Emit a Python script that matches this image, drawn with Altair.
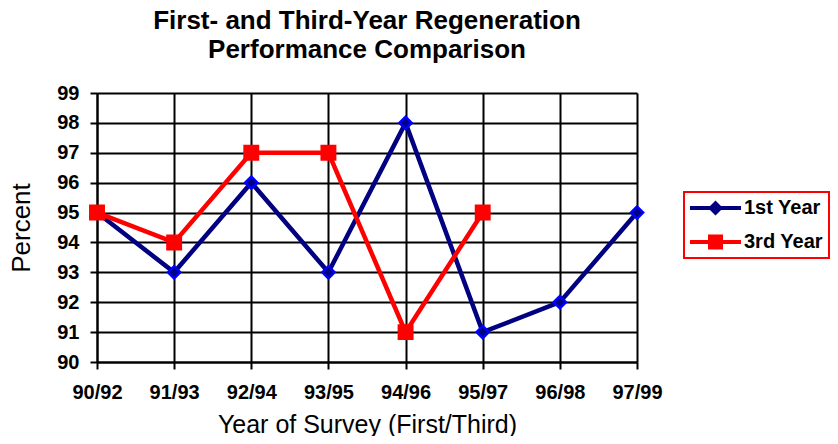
import altair as alt
import pandas as pd

categories = ["90/92", "91/93", "92/94", "93/95", "94/96", "95/97", "96/98", "97/99"]
first_year = [95, 93, 96, 93, 98, 91, 92, 95]
third_year = [95, 94, 97, 97, 91, 95]
series_names = ["1st Year", "3rd Year"]

rows = []
for c, v in zip(categories, first_year):
    rows.append({"survey": c, "percent": v, "series": series_names[0]})
for c, v in zip(categories, third_year):
    rows.append({"survey": c, "percent": v, "series": series_names[1]})
df = pd.DataFrame(rows)
df["key"] = df["series"]

FONT = "Liberation Sans"

x_enc = alt.X("survey:O", sort=categories,
              scale=alt.Scale(type="point", domain=categories, padding=0),
              axis=alt.Axis(title="Year of Survey (First/Third)", labelAngle=0,
                            labelFontWeight="bold", labelFontSize=20, labelPadding=13,
                            titleFontSize=25, titleFontWeight="normal", titlePadding=10,
                            grid=True, gridColor="black", gridWidth=2, gridOpacity=1,
                            tickColor="black", tickWidth=2, tickSize=7,
                            domainColor="black", domainWidth=2))
y_enc = alt.Y("percent:Q", scale=alt.Scale(domain=[90, 99], nice=False, zero=False),
              axis=alt.Axis(title="Percent", values=list(range(90, 100)),
                            labelFontWeight="bold", labelFontSize=20, labelPadding=11,
                            titleFontSize=26, titleFontWeight="normal", titlePadding=22,
                            grid=True, gridColor="black", gridWidth=2, gridOpacity=1,
                            tickColor="black", tickWidth=2, tickSize=7,
                            domainColor="black", domainWidth=2))

lines = alt.Chart(df).mark_line(strokeWidth=4.5).encode(
    x=x_enc, y=y_enc,
    color=alt.Color("series:N", scale=alt.Scale(domain=series_names, range=["#000080", "#FF0000"]), legend=None),
    detail="series:N",
)

points = alt.Chart(df).mark_point(filled=True, opacity=1, strokeWidth=2.5).encode(
    x=x_enc, y=y_enc,
    shape=alt.Shape("series:N", scale=alt.Scale(domain=series_names, range=["diamond", "square"]), legend=None),
    fill=alt.Fill("series:N", scale=alt.Scale(domain=series_names, range=["#000080", "#FF0000"]), legend=None),
    stroke=alt.Stroke("series:N", scale=alt.Scale(domain=series_names, range=["#0000FF", "#FF0000"]), legend=None),
    size=alt.Size("series:N", scale=alt.Scale(domain=series_names, range=[150, 180]), legend=None),
)

# legend symbols: a line segment with the series marker in the middle
legend_shapes = [
    "M-1.0,-0.2 L4.1,-0.2 L4.1,0.2 L-1.0,0.2 Z M1.55,-0.75 L2.3,0 L1.55,0.75 L0.8,0 Z",
    "M-1.0,-0.2 L4.1,-0.2 L4.1,0.2 L-1.0,0.2 Z M0.8,-0.75 L2.3,-0.75 L2.3,0.75 L0.8,0.75 Z",
]

legend_layer = alt.Chart(df).transform_filter("false").mark_point(filled=True, opacity=1).encode(
    x=x_enc, y=y_enc,
    fill=alt.Fill("key:N", scale=alt.Scale(domain=series_names, range=["#000080", "#FF0000"]),
                  legend=alt.Legend(title=None, orient="none", legendX=587, legendY=99,
                                    labelFontSize=20, labelFontWeight="bold", labelColor="black",
                                    symbolSize=400, symbolStrokeWidth=0, symbolOpacity=1,
                                    strokeColor="#FF0000", padding=6, rowPadding=14,
                                    labelOffset=34)),
    shape=alt.Shape("key:N", scale=alt.Scale(domain=series_names, range=legend_shapes)),
)

chart = alt.layer(lines, points, legend_layer).resolve_scale(
    shape="independent", fill="independent"
).resolve_legend(shape="independent", fill="independent").properties(
    width=540, height=269,
    title=alt.TitleParams(["First- and Third-Year Regeneration", "Performance Comparison"],
                          fontSize=26, fontWeight="bold", font=FONT, anchor="middle",
                          lineHeight=29, offset=20),
    autosize=alt.AutoSizeParams(type="none"),
    padding={"left": 89, "top": 85, "right": 193, "bottom": 74},
).configure(font=FONT).configure_view(stroke=None).configure_axis(
    labelFont=FONT, titleFont=FONT, labelColor="black", titleColor="black"
).configure_legend(labelFont=FONT, strokeWidth=2)

chart.save("out.html", embed_options={"renderer": "svg", "actions": False})
